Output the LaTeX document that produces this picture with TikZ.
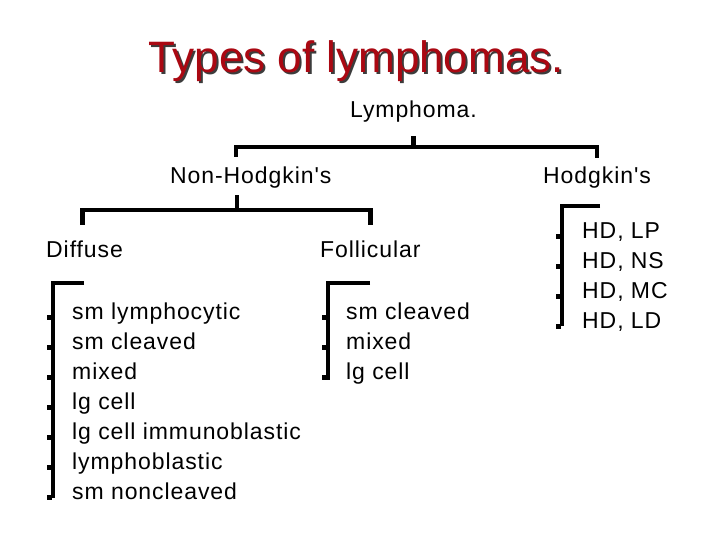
\documentclass[tikz,border=0pt]{standalone}
\usepackage{fontspec}
\setmainfont{Liberation Sans}
\newfontfamily\treefont[LetterSpace=4]{Liberation Sans}
\usetikzlibrary{calc}
\definecolor{titlered}{RGB}{170,8,18}
\definecolor{shadowgray}{RGB}{60,60,60}

\begin{document}
\begin{tikzpicture}[x=1pt,y=-1pt,
    entry/.style={anchor=west, inner sep=0pt, text height=16pt, text depth=4pt, font=\treefont\fontsize{23}{27}\selectfont},
    bar/.style={line width=4.5pt, line cap=butt, line join=miter}]
    \useasboundingbox (0,0) rectangle (720,540);
    % title with its shadow
    \node[anchor=base, font=\fontsize{44}{50}\selectfont, text=shadowgray] (titleshadow) at (358,75) {Types of lymphomas.};
    \node[anchor=base, font=\fontsize{44}{50}\selectfont, text=titlered] (title) at (356,73) {Types of lymphomas.};
    % tree
    \node[entry] (lym) at (350,112) {Lymphoma.};
    \node[entry] (nhl) at (170,178) {Non-Hodgkin's};
    \node[entry] (hod) at (543,178) {Hodgkin's};
    \node[entry] (dif) at (46,252) {Diffuse};
    \node[entry] (fol) at (320,252) {Follicular};
    \draw[bar] ([yshift=-14]lym.south) -- ++(0,11) coordinate (lymj);
    \draw[bar] ([xshift=-15,yshift=11]nhl.north) |- (lymj) -| ([yshift=10]hod.north);
    \draw[bar] ([xshift=-14,yshift=-7]nhl.south) -- ++(0,15) coordinate (nhlj);
    \draw[bar] ([xshift=-2,yshift=17]dif.north) |- (nhlj) -| ([yshift=17]fol.north);
    % diffuse list
    \draw[bar] (84,283) -- (53,283) -- (53,498);
    \foreach \txt [count=\i] in {sm lymphocytic, sm cleaved, mixed, lg cell, lg cell immunoblastic, lymphoblastic, sm noncleaved} {
      \node[entry] (dif\i) at (72,{283+30*\i}) {\txt};
      \fill (47,{285+30*\i}) rectangle ++(5,5);
    }
    % follicular list
    \draw[bar] (370,283) -- (328,283) -- (328,380);
    \foreach \txt [count=\i] in {sm cleaved, mixed, lg cell} {
      \node[entry] (fol\i) at (346,{283+30*\i}) {\txt};
      \fill (322,{285+30*\i}) rectangle ++(5,5);
    }
    % hodgkin list
    \draw[bar] (600,206) -- (562,206) -- (562,326);
    \foreach \txt [count=\i] in {{HD, LP}, {HD, NS}, {HD, MC}, {HD, LD}} {
      \node[entry] (hod\i) at (582,{202+30*\i}) {\txt};
      \fill (556,{204+30*\i}) rectangle ++(5,5);
    }
\end{tikzpicture}
\end{document}
